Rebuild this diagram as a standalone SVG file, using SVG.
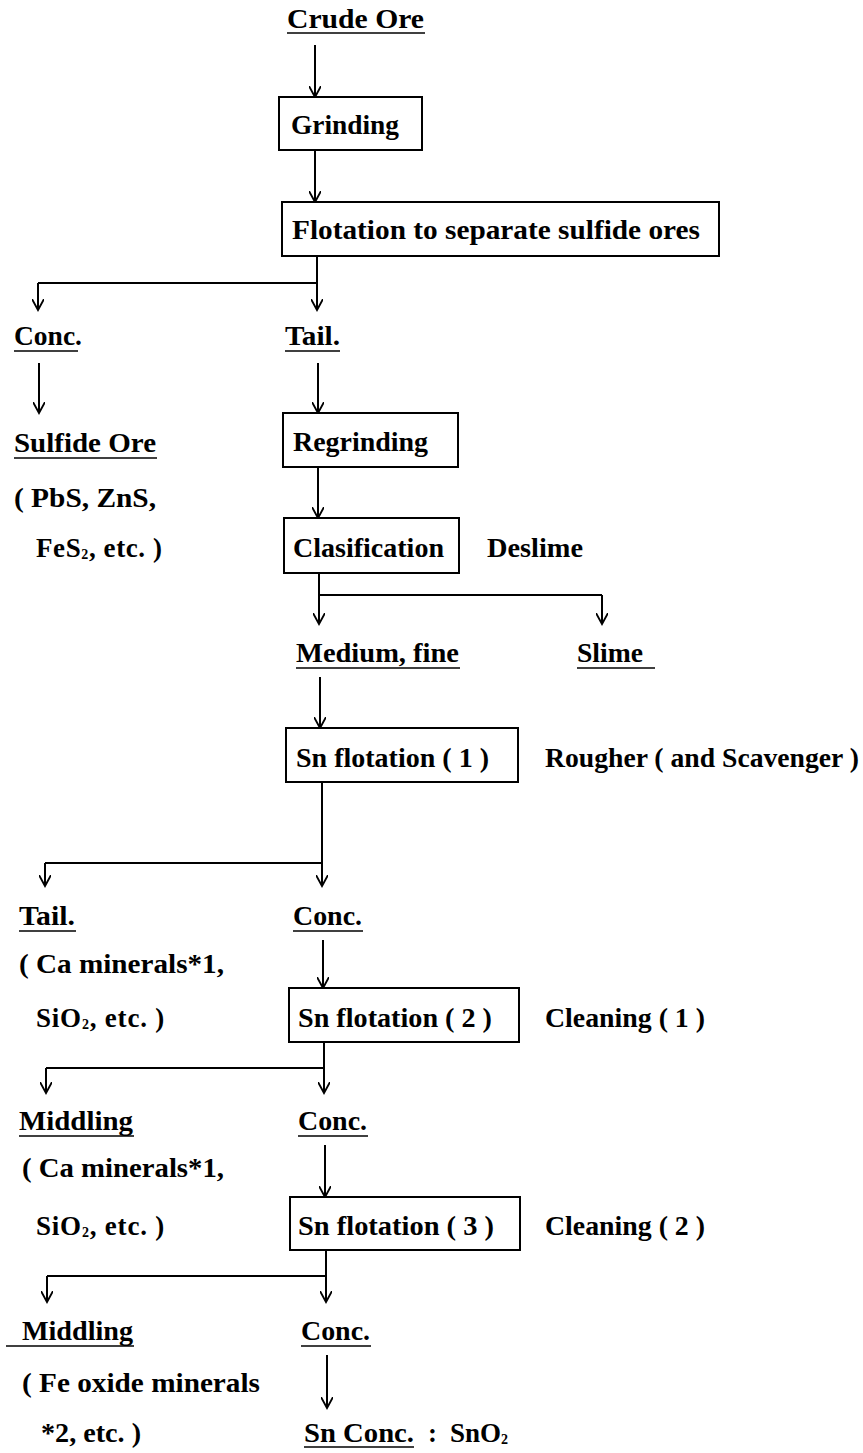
<svg xmlns="http://www.w3.org/2000/svg" width="863" height="1453" viewBox="0 0 863 1453">
<style>
text{font-family:"Liberation Serif","Times New Roman",serif;font-weight:bold;font-size:27px;fill:#000}
.box{fill:#fff;stroke:#000;stroke-width:2}
.ul{stroke:#000;stroke-width:1.6}
.ln{stroke:#000;stroke-width:2;fill:none}
.ar{stroke:#000;stroke-width:2;fill:none;marker-end:url(#ah)}
.sub{font-size:14px}
</style>
<defs>
<marker id="ah" viewBox="0 0 12 12" refX="11" refY="6" markerWidth="13" markerHeight="12" markerUnits="userSpaceOnUse" orient="auto">
<path d="M0,0 L11,6 L0,12" fill="none" stroke="#000" stroke-width="1.8"/>
</marker>
</defs>
<rect width="863" height="1453" fill="#fff"/>

<g id="connectors">
<line class="ar" x1="315" y1="45" x2="315" y2="97"/>
<line class="ar" x1="315" y1="150" x2="315" y2="202"/>
<polyline class="ln" points="317,256 317,283 38,283"/>
<line class="ar" x1="38" y1="283" x2="38" y2="310"/>
<line class="ar" x1="317" y1="283" x2="317" y2="310"/>
<line class="ar" x1="39" y1="363" x2="39" y2="413"/>
<line class="ar" x1="318" y1="363" x2="318" y2="413"/>
<line class="ar" x1="318" y1="467" x2="318" y2="518"/>
<polyline class="ln" points="319,573 319,595 602,595"/>
<line class="ar" x1="319" y1="595" x2="319" y2="624"/>
<line class="ar" x1="602" y1="595" x2="602" y2="624"/>
<line class="ar" x1="320" y1="677" x2="320" y2="728"/>
<polyline class="ln" points="322,782 322,863 45,863"/>
<line class="ar" x1="45" y1="863" x2="45" y2="886"/>
<line class="ar" x1="322" y1="863" x2="322" y2="886"/>
<line class="ar" x1="323" y1="940" x2="323" y2="988"/>
<polyline class="ln" points="324,1042 324,1068 46,1068"/>
<line class="ar" x1="46" y1="1068" x2="46" y2="1093"/>
<line class="ar" x1="324" y1="1068" x2="324" y2="1093"/>
<line class="ar" x1="325" y1="1145" x2="325" y2="1197"/>
<polyline class="ln" points="326,1250 326,1276 47,1276"/>
<line class="ar" x1="47" y1="1276" x2="47" y2="1302"/>
<line class="ar" x1="326" y1="1276" x2="326" y2="1302"/>
<line class="ar" x1="327" y1="1355" x2="327" y2="1408"/>
</g>

<g id="crude-ore">
<text x="287" y="28" textLength="137" lengthAdjust="spacingAndGlyphs">Crude Ore</text>
<line class="ul" x1="287" y1="33" x2="425" y2="33"/>
</g>
<g id="grinding">
<rect class="box" x="279" y="97" width="143" height="53"/>
<text x="291" y="134" textLength="108" lengthAdjust="spacingAndGlyphs">Grinding</text>
</g>
<g id="flotation-sulfide">
<rect class="box" x="282" y="202" width="437" height="54"/>
<text x="292" y="239" textLength="408" lengthAdjust="spacingAndGlyphs">Flotation to separate sulfide ores</text>
</g>

<g id="conc-1">
<text x="14" y="345" textLength="68" lengthAdjust="spacingAndGlyphs">Conc.</text>
<line class="ul" x1="14" y1="351" x2="78" y2="351"/>
</g>
<g id="tail-1">
<text x="285" y="345" textLength="55" lengthAdjust="spacingAndGlyphs">Tail.</text>
<line class="ul" x1="285" y1="351" x2="340" y2="351"/>
</g>
<g id="sulfide-ore">
<text x="14" y="452" textLength="142" lengthAdjust="spacingAndGlyphs">Sulfide Ore</text>
<line class="ul" x1="14" y1="458" x2="157" y2="458"/>
<text x="14" y="507" textLength="142" lengthAdjust="spacingAndGlyphs">( PbS, ZnS,</text>
<text x="36" y="557" letter-spacing="0.6">FeS<tspan class="sub" dy="2">2</tspan><tspan dy="-2">, etc. )</tspan></text>
</g>
<g id="regrinding">
<rect class="box" x="283" y="413" width="175" height="54"/>
<text x="293" y="451" textLength="135" lengthAdjust="spacingAndGlyphs">Regrinding</text>
</g>
<g id="clasification">
<rect class="box" x="284" y="518" width="175" height="55"/>
<text x="293" y="557" textLength="151" lengthAdjust="spacingAndGlyphs">Clasification</text>
<text x="487" y="557" textLength="96" lengthAdjust="spacingAndGlyphs">Deslime</text>
</g>
<g id="medium-fine">
<text x="296" y="662" textLength="163" lengthAdjust="spacingAndGlyphs">Medium, fine</text>
<line class="ul" x1="296" y1="668" x2="460" y2="668"/>
</g>
<g id="slime">
<text x="577" y="662" textLength="66" lengthAdjust="spacingAndGlyphs">Slime</text>
<line class="ul" x1="577" y1="668" x2="655" y2="668"/>
</g>
<g id="sn-flotation-1">
<rect class="box" x="286" y="728" width="232" height="54"/>
<text x="296" y="767" textLength="193" lengthAdjust="spacingAndGlyphs">Sn flotation ( 1 )</text>
<text x="545" y="767" textLength="314" lengthAdjust="spacingAndGlyphs">Rougher ( and Scavenger )</text>
</g>
<g id="tail-2">
<text x="19" y="925" textLength="56" lengthAdjust="spacingAndGlyphs">Tail.</text>
<line class="ul" x1="19" y1="931" x2="76" y2="931"/>
<text x="19" y="973" textLength="205" lengthAdjust="spacingAndGlyphs">( Ca minerals*1,</text>
<text x="36" y="1027" letter-spacing="0.8">SiO<tspan class="sub" dy="2">2</tspan><tspan dy="-2">, etc. )</tspan></text>
</g>
<g id="conc-2">
<text x="293" y="925" textLength="69" lengthAdjust="spacingAndGlyphs">Conc.</text>
<line class="ul" x1="293" y1="931" x2="363" y2="931"/>
</g>
<g id="sn-flotation-2">
<rect class="box" x="289" y="988" width="230" height="54"/>
<text x="298" y="1027" textLength="194" lengthAdjust="spacingAndGlyphs">Sn flotation ( 2 )</text>
<text x="545" y="1027" textLength="160" lengthAdjust="spacingAndGlyphs">Cleaning ( 1 )</text>
</g>
<g id="middling-1">
<text x="19" y="1130" textLength="114" lengthAdjust="spacingAndGlyphs">Middling</text>
<line class="ul" x1="19" y1="1136" x2="134" y2="1136"/>
<text x="22" y="1177" textLength="202" lengthAdjust="spacingAndGlyphs">( Ca minerals*1,</text>
<text x="36" y="1235" letter-spacing="0.8">SiO<tspan class="sub" dy="2">2</tspan><tspan dy="-2">, etc. )</tspan></text>
</g>
<g id="conc-3">
<text x="298" y="1130" textLength="69" lengthAdjust="spacingAndGlyphs">Conc.</text>
<line class="ul" x1="298" y1="1136" x2="368" y2="1136"/>
</g>
<g id="sn-flotation-3">
<rect class="box" x="290" y="1197" width="230" height="53"/>
<text x="298" y="1235" textLength="196" lengthAdjust="spacingAndGlyphs">Sn flotation ( 3 )</text>
<text x="545" y="1235" textLength="160" lengthAdjust="spacingAndGlyphs">Cleaning ( 2 )</text>
</g>
<g id="middling-2">
<text x="22" y="1340" textLength="111" lengthAdjust="spacingAndGlyphs">Middling</text>
<line class="ul" x1="6" y1="1346" x2="134" y2="1346"/>
<text x="22" y="1392" textLength="238" lengthAdjust="spacingAndGlyphs">( Fe oxide minerals</text>
<text x="41" y="1442" textLength="100" lengthAdjust="spacingAndGlyphs">*2, etc. )</text>
</g>
<g id="conc-4">
<text x="301" y="1340" textLength="69" lengthAdjust="spacingAndGlyphs">Conc.</text>
<line class="ul" x1="301" y1="1346" x2="371" y2="1346"/>
</g>
<g id="sn-conc">
<text x="304" y="1442" textLength="110" lengthAdjust="spacingAndGlyphs">Sn Conc.</text>
<text x="428" y="1442">:</text>
<text x="450" y="1442">SnO<tspan class="sub" dy="2">2</tspan></text>
<line class="ul" x1="304" y1="1447" x2="414" y2="1447"/>
</g>
</svg>
